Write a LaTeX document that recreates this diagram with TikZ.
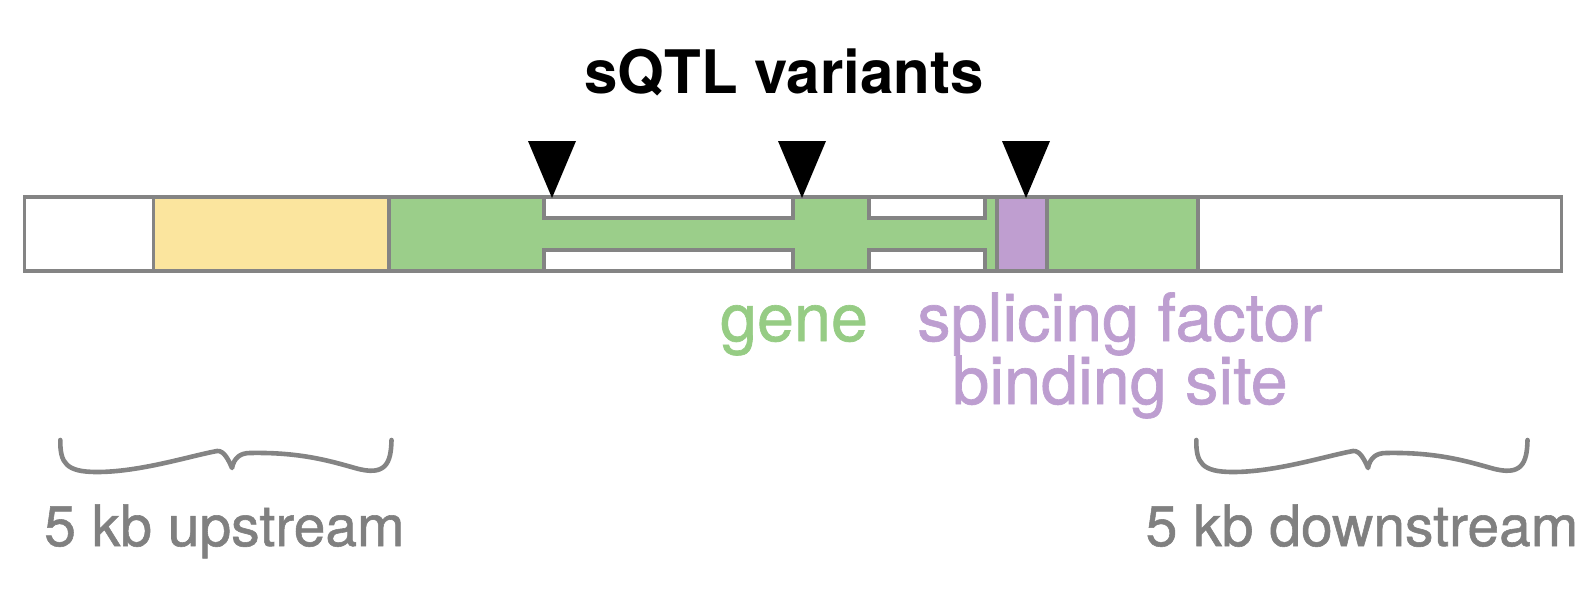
\documentclass[tikz,border=0pt]{standalone}
\usepackage{fontspec}
\setmainfont{TeX Gyre Heros}
\newfontfamily\medfont{TeX Gyre Heros}[FakeBold=1]
\definecolor{outl}{RGB}{132,132,132}
\definecolor{graytext}{RGB}{128,128,128}
\definecolor{yel}{RGB}{251,229,158}
\definecolor{grn}{RGB}{155,206,138}
\definecolor{purp}{RGB}{191,158,208}
\definecolor{grntext}{RGB}{150,204,132}
\definecolor{purptext}{RGB}{189,158,208}
\tikzset{
  outline/.style={draw=outl, line width=3.3},
  snp/.style={fill=black},
  bracepath/.style={draw=outl, line width=4.6, line cap=round, line join=round},
  lbl/.style={inner sep=0pt, anchor=base},
  title/.style={lbl, font=\fontsize{60}{70}\selectfont\bfseries, text=black},
  genelbl/.style={lbl, font=\medfont\fontsize{66.5}{76}\selectfont, text=grntext},
  sflbl/.style={lbl, font=\medfont\fontsize{66.5}{76}\selectfont, text=purptext},
  kblbl/.style={lbl, font=\medfont\fontsize{57}{66}\selectfont, text=graytext}
}
\begin{document}
\begin{tikzpicture}[x=1pt,y=-1pt]
\useasboundingbox (0,0) rectangle (1585,597);
% regions
\fill[white] (24.3,197) rectangle (153.6,271);
\fill[yel] (153.6,197) rectangle (389,271);
\fill[grn] (389,197) rectangle (1198,271);
\fill[white] (1198,197) rectangle (1561.7,271);
% introns
\filldraw[fill=white, outline] (544,197) rectangle (793,218);
\filldraw[fill=white, outline] (544,250) rectangle (793,271);
\filldraw[fill=white, outline] (869,197) rectangle (985,218);
\filldraw[fill=white, outline] (869,250) rectangle (985,271);
% splicing factor binding site
\filldraw[fill=purp, outline] (997,197) rectangle (1047,271);
% outline and separators
\draw[outline] (24.3,197) rectangle (1561.7,271);
\draw[outline] (153.6,197) -- (153.6,271);
\draw[outline] (389,197) -- (389,271);
\draw[outline] (1198,197) -- (1198,271);
% variant markers
\coordinate (v1) at (552,198);
\coordinate (v2) at (802,198);
\coordinate (v3) at (1026,198);
\fill[snp] (v1) -- ++(-24,-57) -- ++(48,0) -- cycle;
\fill[snp] (v2) -- ++(-24,-57) -- ++(48,0) -- cycle;
\fill[snp] (v3) -- ++(-24,-57) -- ++(48,0) -- cycle;
% braces
\foreach \dx in {0,1136}{
\begin{scope}[shift={(\dx,0)}]
\draw[bracepath] (60.3,440) .. controls (60,463) and (66,472) .. (97,472)
  .. controls (140,472) and (190,456) .. (217,451)
  .. controls (224,450) and (229,461) .. (232,468)
  .. controls (234,458) and (240,453) .. (250,453)
  .. controls (300,452) and (330,461) .. (355,468)
  .. controls (386,477) and (391,463) .. (391.5,440);
\end{scope}}
% labels
\node[title] (ttl) at (784,93) {sQTL variants};
\node[genelbl] (gene) at (794,341) {gene};
\node[sflbl] (sf1) at (1120,341) {splicing factor};
\node[sflbl] (sf2) at (1120,404) {binding site};
\node[kblbl] (up) at (224.4,546) {5 kb upstream};
\node[kblbl] (down) at (1362,546) {5 kb downstream};
\end{tikzpicture}
\end{document}
